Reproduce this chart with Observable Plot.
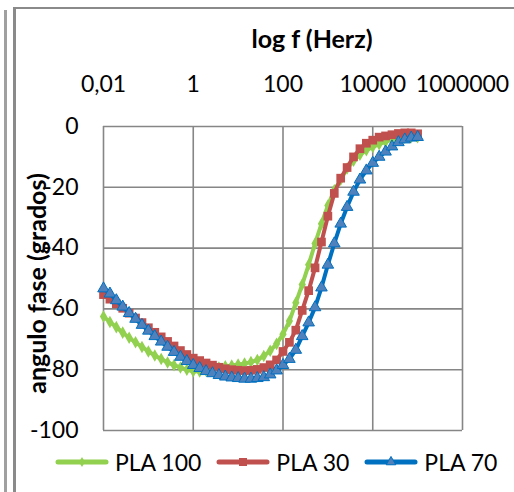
<!DOCTYPE html>
<html>
<head>
<meta charset="utf-8">
<script src="https://cdn.jsdelivr.net/npm/d3@7"></script>
<script src="https://cdn.jsdelivr.net/npm/@observablehq/plot@0.6"></script>
<style>
  html, body { margin: 0; padding: 0; background: #fff; }
  #wrap { position: relative; width: 514px; height: 492px; overflow: hidden; font-family: Lato, "Open Sans", sans-serif; }
  .deco { position: absolute; background: #8a8a8a; }
  #legend { position: absolute; left: 55px; top: 445px; height: 34px; display: flex; align-items: center; font-size: 23px; color: #000; }
  .item { display: flex; align-items: center; margin-right: 15px; }
  .item svg { margin-right: 6px; }
</style>
</head>
<body>
<div id="wrap">
  <div class="deco" style="left:4px; top:10px; width:3px; height:482px; background:#a0a0a0;"></div>
  <div class="deco" style="left:13px; top:7px; width:3px; height:485px;"></div>
  <div class="deco" style="left:13px; top:7px; width:501px; height:2px;"></div>
  <div id="chart"></div>
  <div id="legend"></div>
</div>
<script>
const xTitle = "log f (Herz)";
const yTitle = "angulo fase (grados)";
const xTicks = [0.01, 1, 100, 10000, 1000000];
const xTickLabels = ["0,01", "1", "100", "10000", "1000000"];
const yTicks = [0, -20, -40, -60, -80, -100];
const seriesNames = ["PLA 100", "PLA 30", "PLA 70"];

const freq = [0.01, 0.0139, 0.0193, 0.0268, 0.0373, 0.0518, 0.072,
  0.1, 0.139, 0.193, 0.268, 0.373, 0.518, 0.72,
  1, 1.39, 1.93, 2.68, 3.73, 5.18, 7.2,
  10, 13.9, 19.3, 26.8, 37.3, 51.8, 72,
  100, 139, 193, 268, 373, 518, 720,
  1000, 1390, 1930, 2680, 3730, 5180, 7200,
  10000, 13900, 19300, 26800, 37300, 51800, 72000,
  100000];

const pla100 = [-62.5, -64.3, -66.0, -67.8, -69.5, -71.0, -72.5,
  -74.0, -75.3, -76.5, -77.6, -78.5, -79.3, -80.0,
  -80.5, -80.6, -80.3, -79.8, -79.3, -78.9, -78.6,
  -78.3, -78.0, -77.5, -76.8, -75.5, -73.8, -71.5,
  -68.3, -64.0, -58.0, -52.0, -45.5, -38.5, -32.0,
  -26.0, -21.0, -17.5, -13.8, -11.3, -9.3, -7.8,
  -6.7, -5.8, -5.0, -4.4, -4.0, -3.7, -3.5,
  -3.5];

const pla30 = [-55.3, -56.8, -58.3, -59.8, -61.4, -63.0, -64.5,
  -66.2, -67.7, -69.2, -70.7, -72.2, -73.7, -75.0,
  -76.2, -77.0, -77.8, -78.5, -79.2, -79.7, -80.0,
  -80.2, -80.3, -80.2, -79.9, -79.3, -78.4, -76.8,
  -74.0, -71.0, -67.0, -60.5, -54.0, -46.5, -38.0,
  -29.5, -22.0, -17.0, -13.5, -10.0, -7.3, -5.5,
  -4.5, -3.5, -3.1, -2.7, -2.3, -2.1, -2.1,
  -2.4];

const pla70 = [-53.3, -55.0, -57.2, -59.3, -61.4, -63.3, -65.3,
  -67.2, -69.0, -70.8, -72.5, -74.2, -75.8, -77.2,
  -78.5, -79.5, -80.5, -81.2, -81.8, -82.3, -82.6,
  -82.8, -83.0, -83.0, -82.8, -82.5, -81.6, -80.3,
  -78.5, -76.5, -73.5, -69.0, -64.5, -59.5, -53.0,
  -45.5, -38.5, -32.0, -26.5, -21.5, -17.5, -14.5,
  -12.0, -10.0, -8.3, -6.6, -5.2, -4.3, -3.7,
  -3.5];

const rows = (vals) => freq.map((f, i) => ({f, v: vals[i]}));
const d100 = rows(pla100), d30 = rows(pla30), d70 = rows(pla70);

const green = "#92D050", red = "#C0504D", blue = "#0070C0", blueFill = "#4F81BD";
const gridColor = "#868686";

const chart = Plot.plot({
  width: 514,
  height: 445,
  marginLeft: 103,
  marginRight: 52,
  marginTop: 126,
  marginBottom: 15,
  style: {fontFamily: "Lato, 'Open Sans', sans-serif", fontSize: "23px", color: "#000", background: "transparent", overflow: "visible"},
  x: {type: "log", domain: [0.01, 1000000]},
  y: {domain: [-100, 0]},
  marks: [
    Plot.gridX(xTicks, {stroke: gridColor, strokeOpacity: 1, strokeWidth: 1.6}),
    Plot.gridY(yTicks, {stroke: gridColor, strokeOpacity: 1, strokeWidth: 1.6}),
    Plot.axisX(xTicks, {anchor: "top", tickSize: 0, tickPadding: 42, lineAnchor: "middle", fontSize: 23,
      tickFormat: (d) => xTickLabels[xTicks.indexOf(d)], label: null}),
    Plot.axisY(yTicks, {anchor: "left", tickSize: 0, tickPadding: 25, fontSize: 23,
      tickFormat: d => String(d), label: null}),
    Plot.text([xTitle], {frameAnchor: "top", dx: 29, dy: -87, textAnchor: "middle", lineAnchor: "middle", fontWeight: "bold", fontSize: 25, fill: "#000"}),
    Plot.text([yTitle], {frameAnchor: "left", rotate: -90, dx: -66, dy: 5, textAnchor: "middle", lineAnchor: "middle", fontWeight: "bold", fontSize: 25, fill: "#000"}),
    Plot.line(d100, {x: "f", y: "v", stroke: green, strokeWidth: 4}),
    Plot.dot(d100, {x: "f", y: "v", symbol: "diamond", r: 3.8, fill: green, stroke: "none"}),
    Plot.line(d30, {x: "f", y: "v", stroke: red, strokeWidth: 4}),
    Plot.dot(d30, {x: "f", y: "v", symbol: "square", r: 4.9, fill: red, stroke: "none"}),
    Plot.line(d70, {x: "f", y: "v", stroke: blue, strokeWidth: 4}),
    Plot.dot(d70, {x: "f", y: "v", symbol: "triangle", r: 4.3, fill: blueFill, stroke: blue, strokeWidth: 1})
  ]
});
document.getElementById("chart").appendChild(chart);

// legend
const legendSpecs = [
  {name: seriesNames[0], color: green, marker: "diamond"},
  {name: seriesNames[1], color: red, marker: "square"},
  {name: seriesNames[2], color: blue, marker: "triangle"}
];
const legend = d3.select("#legend");
for (const s of legendSpecs) {
  const item = legend.append("div").attr("class", "item");
  const svg = item.append("svg").attr("width", 54).attr("height", 14);
  svg.append("line").attr("x1", 3).attr("x2", 51).attr("y1", 7).attr("y2", 7)
    .attr("stroke", s.color).attr("stroke-width", 5).attr("stroke-linecap", "round");
  const sym = s.marker === "diamond" ? d3.symbolDiamond : s.marker === "square" ? d3.symbolSquare : d3.symbolTriangle;
  const size = s.marker === "diamond" ? 30 : s.marker === "square" ? 64 : 40;
  svg.append("path").attr("transform", "translate(27,7)")
    .attr("d", d3.symbol(sym, size)())
    .attr("fill", s.marker === "triangle" ? blueFill : s.color)
    .attr("stroke", s.marker === "triangle" ? blue : "none");
  item.append("span").text(s.name);
}
</script>
</body>
</html>
